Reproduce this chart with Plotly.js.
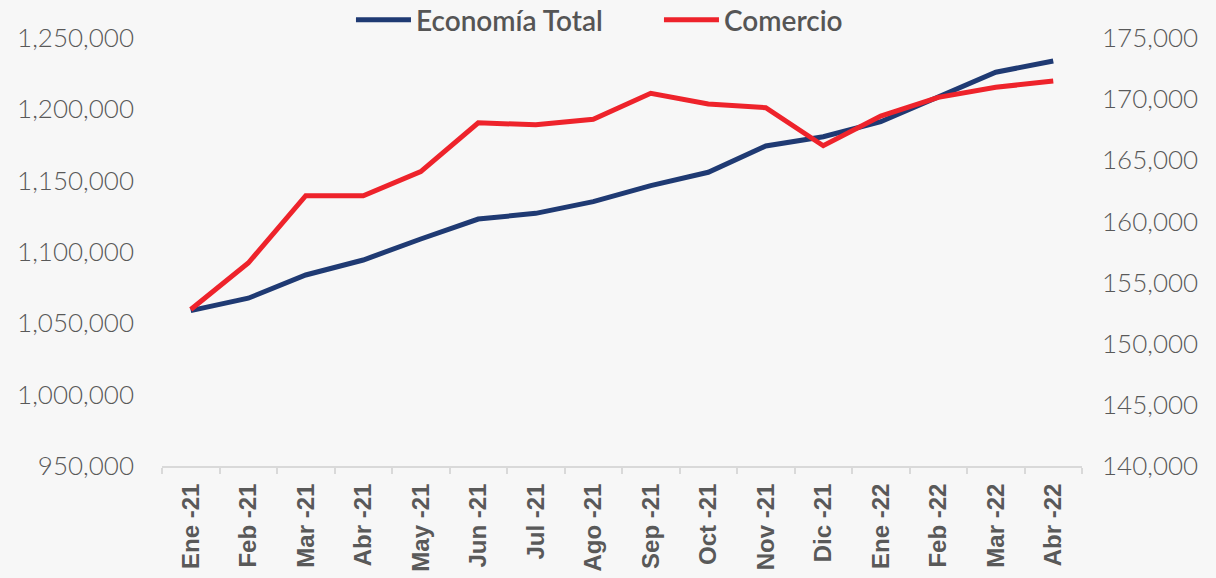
<!DOCTYPE html>
<html>
<head>
<meta charset="utf-8">
<script src="https://cdn.plot.ly/plotly-3.0.1.min.js"></script>
<style>
  html, body { margin: 0; padding: 0; background: #f7f7f7; }
  #chart { width: 1216px; height: 578px; }
</style>
</head>
<body>
<div id="chart"></div>
<script>
// Categories (months)
var months = ["Ene -21", "Feb -21", "Mar -21", "Abr -21", "May -21", "Jun -21", "Jul -21", "Ago -21",
              "Sep -21", "Oct -21", "Nov -21", "Dic -21", "Ene -22", "Feb -22", "Mar -22", "Abr -22"];

// Economía Total (left axis)
var economiaTotal = [1058900, 1067600, 1083900, 1094400, 1109100, 1123100, 1127100, 1135300,
                     1146500, 1155900, 1174300, 1180800, 1191300, 1208400, 1226000, 1233900];

// Comercio (right axis)
var comercio = [152800, 156600, 162100, 162100, 164070, 168070, 167900, 168350,
                170480, 169600, 169300, 166190, 168620, 170150, 170970, 171480];

// Axis ranges / ticks
var leftRange = [950000, 1250000];
var leftStep = 50000;
var rightRange = [140000, 175000];
var rightStep = 5000;

var traces = [
  {
    x: months, y: economiaTotal, name: "Economía Total", type: "scatter", mode: "lines",
    line: { color: "#1f3a73", width: 5 }, yaxis: "y", hoverinfo: "x+y"
  },
  {
    x: months, y: comercio, name: "Comercio", type: "scatter", mode: "lines",
    line: { color: "#ee232b", width: 5 }, yaxis: "y2", hoverinfo: "x+y"
  }
];

var tickFont = { family: "Lato", size: 26, color: "#595959", weight: 300 };

var layout = {
  width: 1216, height: 578,
  paper_bgcolor: "#f7f7f7", plot_bgcolor: "#f7f7f7",
  margin: { l: 162, r: 134, t: 38, b: 112, pad: 0, autoexpand: false },
  showlegend: true,
  legend: {
    orientation: "h", x: 0.2054, xanchor: "left", y: 1.042, yanchor: "middle",
    font: { family: "Lato", size: 28, color: "#555555", weight: 600 },
    itemwidth: 55, entrywidth: 238, bgcolor: "rgba(0,0,0,0)", traceorder: "normal"
  },
  xaxis: {
    type: "category", tickangle: -90, range: [-0.5, months.length - 0.5],
    tickfont: { family: "Liberation Sans", size: 24, color: "#595959", weight: "bold" },
    showline: true, linecolor: "#d9d9d9", linewidth: 2,
    ticks: "outside", tickson: "boundaries", ticklen: 6, tickcolor: "#d9d9d9", tickwidth: 2,
    showgrid: false, zeroline: false, ticklabelstandoff: 6
  },
  yaxis: {
    range: leftRange, dtick: leftStep, tick0: leftRange[0], tickformat: ",d",
    tickfont: tickFont, showgrid: false, zeroline: false, showline: false,
    ticks: "", ticklabelstandoff: 27
  },
  yaxis2: {
    range: rightRange, dtick: rightStep, tick0: rightRange[0], tickformat: ",d",
    overlaying: "y", side: "right",
    tickfont: tickFont, showgrid: false, zeroline: false, showline: false,
    ticks: "", ticklabelstandoff: 19
  }
};

Plotly.newPlot("chart", traces, layout, { displayModeBar: false, staticPlot: true });
</script>
</body>
</html>
